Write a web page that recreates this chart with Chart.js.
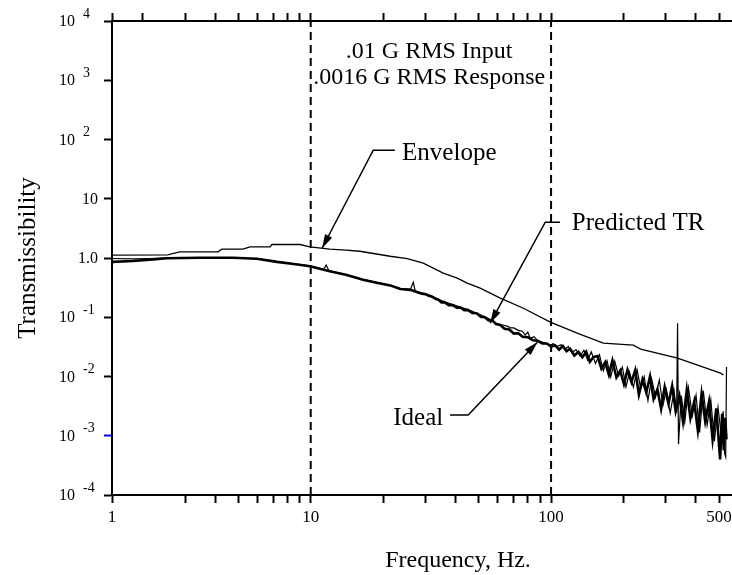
<!DOCTYPE html>
<html lang="en">
<head>
<meta charset="UTF-8">
<title>Transmissibility</title>
<script src="https://cdn.jsdelivr.net/npm/chart.js"></script>
<style>
  html, body { margin: 0; padding: 0; background: #fff; }
  #chart { display: block; }
</style>
</head>
<body>
<canvas id="chart" width="732" height="575"></canvas>
<script>
// values (Hz, transmissibility)
const envelopeFreq = [1.49, 2.54, 2.85, 4.11, 4.27, 5.22, 5.59, 6.77, 6.9, 9.02, 9.93, 12.0, 14.0, 16.0, 18.5, 21.4, 25.2, 29.4, 35.6, 40.7, 44.8, 50.7, 61.5, 76.7, 99.3, 130, 165, 220, 236, 336, 507, 522];
const envelopeVal = [1.12, 1.13, 1.27, 1.27, 1.41, 1.41, 1.54, 1.54, 1.69, 1.69, 1.54, 1.41, 1.36, 1.30, 1.18, 1.07, 0.98, 0.82, 0.554, 0.456, 0.376, 0.31, 0.21, 0.142, 0.083, 0.053, 0.0366, 0.0339, 0.029, 0.0204, 0.0114, 0.0106];

const idealFreq = [1.49, 1.82, 2.14, 2.52, 3.46, 4.74, 5.97, 7.24, 8.5, 9.93, 12.0, 14.0, 16.5, 19.0, 21.4, 23.6, 26.0, 28, 29, 30, 31, 32, 33, 34, 35, 36, 37.5, 39, 40.5, 42, 43.5, 45, 47, 49, 51, 53, 55, 57, 59, 61.5, 64, 67, 70, 73, 76, 80, 84, 88, 92, 96, 100,
  104, 108, 112, 116, 120, 125, 130, 135, 140, 145, 150, 156, 162, 168, 174, 180, 187, 194, 201, 208, 216, 224, 232, 240, 249, 258, 267, 277, 287, 297, 308, 319, 330, 342, 354, 367, 380, 394, 408, 423, 438, 454, 470, 487, 505, 515, 523, 530, 537];
const idealVal = [0.86, 0.89, 0.94, 0.99, 1.01, 1.01, 0.97, 0.86, 0.79, 0.727, 0.60, 0.52, 0.43, 0.38, 0.345, 0.30, 0.29, 0.262, 0.25, 0.245, 0.23, 0.222, 0.205, 0.198, 0.178, 0.18, 0.16, 0.16, 0.145, 0.146, 0.132, 0.133, 0.118, 0.117, 0.102, 0.1, 0.088, 0.088, 0.077, 0.074, 0.064, 0.062, 0.053, 0.054, 0.047, 0.046, 0.041, 0.040, 0.036, 0.036, 0.032,
  0.0335, 0.0285, 0.0327, 0.0267, 0.0294, 0.0226, 0.0259, 0.0211, 0.0262, 0.0177, 0.0213, 0.0221, 0.0136, 0.0174, 0.0107, 0.0186, 0.00964, 0.0126, 0.00743, 0.0129, 0.00809, 0.0128, 0.00494, 0.00879, 0.00538, 0.00998, 0.00415, 0.00612, 0.00285, 0.00667, 0.00349, 0.0069, 0.0026, 0.00468, 0.00176, 0.0059, 0.00198, 0.00373, 0.00125, 0.00505, 0.00176, 0.0037, 0.00087, 0.0029, 0.0004, 0.00235, 0.00057, 0.002, 0.00087];

const predFreq = [1.49, 1.82, 2.14, 2.52, 3.46, 4.74, 5.97, 7.24, 8.5, 9.93, 11.3, 11.6, 11.9, 14.0, 16.5, 19.0, 21.4, 23.6, 26.0, 26.7, 27.2, 28, 30, 32, 34, 36, 39, 42, 45, 49, 53, 56, 58, 60, 63, 66, 68, 70, 73, 76, 78, 80, 82, 85, 88, 92, 96, 100,
  102, 106, 110, 114, 118, 122, 127, 132, 137, 142, 147, 153, 159, 165, 171, 177, 184, 191, 198, 205, 212, 220, 228, 236, 244, 253, 262, 272, 282, 292, 302, 313, 325, 333, 336, 339, 348, 360, 373, 387, 401, 415, 430, 446, 462, 478, 495, 510, 520, 527, 533, 537];
const predVal = [0.98, 0.97, 0.98, 1.0, 1.01, 1.01, 0.97, 0.87, 0.80, 0.735, 0.64, 0.76, 0.61, 0.525, 0.435, 0.385, 0.35, 0.305, 0.295, 0.39, 0.28, 0.265, 0.25, 0.225, 0.2, 0.183, 0.163, 0.148, 0.135, 0.118, 0.102, 0.092, 0.083, 0.076, 0.074, 0.07, 0.066, 0.066, 0.06, 0.058, 0.05, 0.056, 0.044, 0.047, 0.04, 0.038, 0.035, 0.033,
  0.0359, 0.032, 0.0343, 0.0285, 0.0321, 0.0251, 0.0285, 0.0221, 0.0277, 0.0188, 0.026, 0.0166, 0.0233, 0.0125, 0.0184, 0.00986, 0.0182, 0.0102, 0.0143, 0.0067, 0.0119, 0.00664, 0.0129, 0.0063, 0.00995, 0.00394, 0.0092, 0.0045, 0.00873, 0.00324, 0.00601, 0.0024, 0.00571, 0.00245, 0.079, 0.00072, 0.00476, 0.00171, 0.00644, 0.00216, 0.00479, 0.00114, 0.00575, 0.00152, 0.00403, 0.00081, 0.00302, 0.00107, 0.00259, 0.00051, 0.00044, 0.0144];

const markerFreqs = [10, 100];

const xTicksBottom = [1.49, 3, 4, 5, 6, 7, 8, 9, 10, 20, 30, 40, 50, 60, 70, 80, 90, 100, 200, 300, 400, 500];
const xTicksTop = [1.49, 2, 3, 4, 5, 6, 7, 8, 9, 10, 20, 30, 40, 50, 60, 70, 80, 90, 100, 200, 300, 400, 500];
const xTickLabels = { 1.49: '1', 10: '10', 100: '100', 500: '500' };
const yTicks = [1e-4, 1e-3, 1e-2, 1e-1, 1, 10, 100, 1000, 10000];
const yExponents = [-4, -3, -2, -1, 0, 1, 2, 3, 4];

const inputLines = ['.01 G RMS Input', '.0016 G RMS Response'];
const inputAt = [[31.1, 2390], [31.1, 870]];

// label text anchor, then leader path ending at the arrow tip
const notes = [
  { text: 'Envelope', at: [24.0, 44.6], align: 'left', path: [[22.4, 65.8], [18.2, 65.8], [11.15, 1.46]] },
  { text: 'Predicted TR', at: [122, 2.94], align: 'left', path: [[109, 4.01], [94.6, 4.01], [55.8, 0.0795]] },
  { text: 'Ideal', at: [35.6, 0.00151], align: 'right', path: [[38.0, 0.00223], [45.2, 0.00223], [87.7, 0.038]] }
];

const serif = '"Liberation Serif", "Times New Roman", serif';
const pairs = (fs, vs) => fs.map((f, i) => ({ x: f, y: vs[i] }));

const overlay = {
  id: 'overlay',
  afterDraw(chart) {
    const { ctx, chartArea, scales: { x, y } } = chart;
    const left = chartArea.left;
    ctx.save();
    ctx.fillStyle = '#000';
    ctx.strokeStyle = '#000';

    // y tick labels with raised exponents
    ctx.textBaseline = 'middle';
    yTicks.forEach((v, i) => {
      const yy = y.getPixelForValue(v);
      const e = yExponents[i];
      ctx.font = '16px ' + serif;
      if (e === 0 || e === 1) {
        ctx.textAlign = 'right';
        ctx.fillText(e === 0 ? '1.0' : '10', left - 14, yy + 1);
      } else {
        ctx.textAlign = 'right';
        ctx.fillText('10', left - 37, yy + 1);
        ctx.font = '14px ' + serif;
        ctx.textAlign = 'left';
        ctx.fillText(String(e), left - 29, yy - 7);
      }
    });

    // axis titles
    ctx.font = '24px ' + serif;
    ctx.textAlign = 'center';
    ctx.fillText('Frequency, Hz.', 458, 561);
    ctx.save();
    ctx.translate(28, (chartArea.top + chartArea.bottom) / 2);
    ctx.rotate(-Math.PI / 2);
    ctx.font = '25px ' + serif;
    ctx.fillText('Transmissibility', 0, 0);
    ctx.restore();

    // input / response text
    ctx.font = '24px ' + serif;
    ctx.textBaseline = 'alphabetic';
    inputLines.forEach((t, i) => {
      ctx.fillText(t, x.getPixelForValue(inputAt[i][0]), y.getPixelForValue(inputAt[i][1]));
    });

    // labels with leaders and arrows
    notes.forEach(n => {
      const pts = n.path.map(([f, v]) => [x.getPixelForValue(f), y.getPixelForValue(v)]);
      ctx.lineWidth = 1.5;
      ctx.beginPath();
      pts.forEach(([a, b], i) => (i ? ctx.lineTo(a, b) : ctx.moveTo(a, b)));
      ctx.stroke();
      const [x1, y1] = pts[pts.length - 2];
      const [x2, y2] = pts[pts.length - 1];
      const ang = Math.atan2(y2 - y1, x2 - x1);
      const c = Math.cos(ang), s = Math.sin(ang);
      ctx.beginPath();
      ctx.moveTo(x2, y2);
      ctx.lineTo(x2 - 14 * c + 4 * s, y2 - 14 * s - 4 * c);
      ctx.lineTo(x2 - 14 * c - 4 * s, y2 - 14 * s + 4 * c);
      ctx.closePath();
      ctx.fill();
      ctx.font = '25px ' + serif;
      ctx.textAlign = n.align;
      ctx.fillText(n.text, x.getPixelForValue(n.at[0]), y.getPixelForValue(n.at[1]));
    });
    ctx.restore();
  }
};

const axisLine = { display: true, color: '#000', width: 2 };
const noSidePad = s => { s.paddingLeft = 0; s.paddingRight = 0; };

new Chart(document.getElementById('chart').getContext('2d'), {
  type: 'line',
  data: {
    datasets: [
      { label: 'Envelope', data: pairs(envelopeFreq, envelopeVal), borderColor: '#000', borderWidth: 1.3 },
      { label: 'Ideal', data: pairs(idealFreq, idealVal), borderColor: '#000', borderWidth: 2.6 },
      { label: 'Predicted TR', data: pairs(predFreq, predVal), borderColor: '#000', borderWidth: 1.2 },
      ...markerFreqs.map(f => ({
        label: f + ' Hz',
        data: [{ x: f, y: 1e-4 }, { x: f, y: 1e4 }],
        borderColor: '#000', borderWidth: 2, borderDash: [8, 5]
      }))
    ]
  },
  options: {
    responsive: false,
    animation: false,
    devicePixelRatio: 1,
    layout: { padding: 0 },
    elements: { point: { radius: 0 }, line: { tension: 0 } },
    plugins: { legend: { display: false }, tooltip: { enabled: false } },
    scales: {
      x: {
        type: 'logarithmic', position: 'bottom', min: 1.49, max: 566, bounds: 'data',
        afterBuildTicks: s => { s.ticks = xTicksBottom.map(v => ({ value: v })); },
        afterFit: s => { s.height = 80; noSidePad(s); },
        ticks: {
          autoSkip: false, maxRotation: 0, padding: 4, color: '#000',
          font: { family: serif, size: 17 },
          callback: v => xTickLabels[v] || ''
        },
        grid: { drawOnChartArea: false, tickLength: 8, tickWidth: 2, color: '#000' },
        border: axisLine
      },
      xTop: {
        axis: 'x', type: 'logarithmic', position: 'top', min: 1.49, max: 566, bounds: 'data',
        afterBuildTicks: s => { s.ticks = xTicksTop.map(v => ({ value: v })); },
        afterFit: s => { s.height = 21; noSidePad(s); },
        ticks: { autoSkip: false, maxRotation: 0, callback: () => '' },
        grid: { drawOnChartArea: false, tickLength: 8, tickWidth: 2, color: '#000' },
        border: axisLine
      },
      y: {
        type: 'logarithmic', min: 1e-4, max: 1e4, bounds: 'data',
        afterBuildTicks: s => { s.ticks = yTicks.map(v => ({ value: v })); },
        afterFit: s => { s.width = 112; },
        ticks: { autoSkip: false, callback: () => '' },
        grid: {
          drawOnChartArea: false, tickLength: 8, tickWidth: 2,
          color: c => (c.tick && c.tick.value === 1e-3 ? '#0000ff' : '#000')
        },
        border: axisLine
      }
    }
  },
  plugins: [overlay]
});
</script>
</body>
</html>
